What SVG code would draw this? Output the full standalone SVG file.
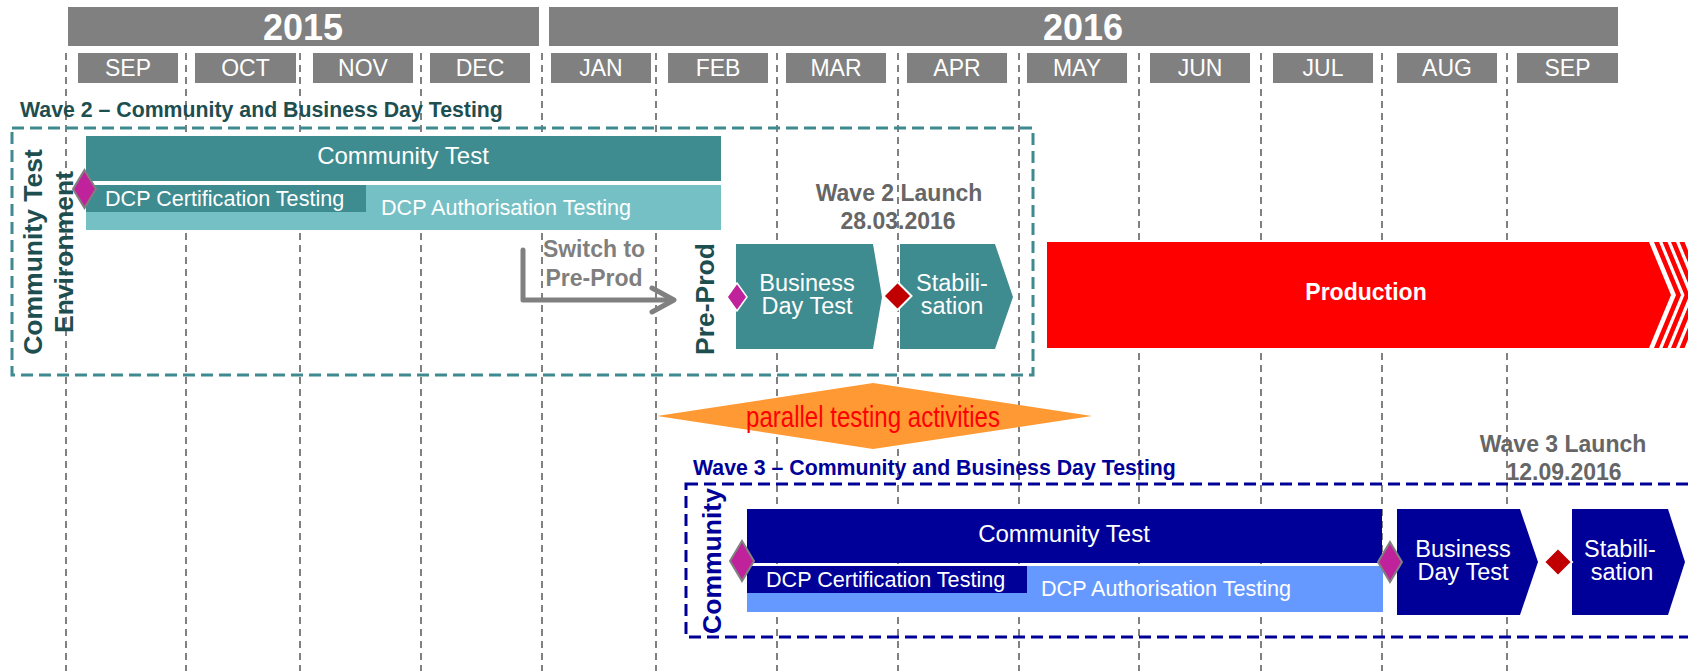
<svg xmlns="http://www.w3.org/2000/svg" width="1688" height="671" viewBox="0 0 1688 671">
<style>
text{font-family:"Liberation Sans",Arial,sans-serif}
.hdr{fill:#808080}
.yt{fill:#fff;font-size:36px;font-weight:bold;text-anchor:middle}
.mt{fill:#fff;font-size:23px;text-anchor:middle}
.grid{stroke:#808080;stroke-width:2;stroke-dasharray:7 5;fill:none}
.w2box{fill:none;stroke:#3e8a8f;stroke-width:3;stroke-dasharray:12 6}
.w3box{fill:none;stroke:#000099;stroke-width:3;stroke-dasharray:12 6}
.title{font-size:21.3px;font-weight:bold}
.teal{fill:#3e8b90}
.tealL{fill:#74c0c5}
.navy{fill:#000099}
.blueL{fill:#6699ff}
.bar{font-size:24px;fill:#fff;text-anchor:middle}
.dcp{font-size:21.6px;fill:#fff}
.vt{font-size:26.5px;font-weight:bold;text-anchor:middle}
.mag{fill:#c0229b;stroke:#808080;stroke-width:2}
.magw{fill:#c0229b;stroke:#fff;stroke-width:1.5}
.red{fill:#c00000;stroke:#fff;stroke-width:2}
.launch{fill:#666;font-size:23px;font-weight:bold;text-anchor:middle}
.box{font-size:23.5px;text-anchor:middle;fill:#fff}
.conn{fill:none;stroke:#808080;stroke-width:5;stroke-linejoin:round;stroke-linecap:round}
</style>

<g id="gridlines" class="grid">
<line x1="66" y1="53" x2="66" y2="671"/>
<line x1="186" y1="53" x2="186" y2="671"/>
<line x1="300" y1="53" x2="300" y2="671"/>
<line x1="421" y1="53" x2="421" y2="671"/>
<line x1="542" y1="53" x2="542" y2="671"/>
<line x1="656" y1="53" x2="656" y2="671"/>
<line x1="777" y1="53" x2="777" y2="671"/>
<line x1="898" y1="53" x2="898" y2="671"/>
<line x1="1019" y1="53" x2="1019" y2="671"/>
<line x1="1139" y1="53" x2="1139" y2="671"/>
<line x1="1261" y1="53" x2="1261" y2="671"/>
<line x1="1382" y1="53" x2="1382" y2="671"/>
<line x1="1507" y1="53" x2="1507" y2="671"/>
</g>

<g id="header">
<rect class="hdr" x="68" y="7" width="471" height="39"/>
<text class="yt" x="303" y="40">2015</text>
<rect class="hdr" x="549" y="7" width="1069" height="39"/>
<text class="yt" x="1083" y="40">2016</text>
<rect class="hdr" x="78" y="53" width="100" height="30"/><text class="mt" x="128" y="76">SEP</text>
<rect class="hdr" x="195" y="53" width="101" height="30"/><text class="mt" x="245.5" y="76">OCT</text>
<rect class="hdr" x="313" y="53" width="100" height="30"/><text class="mt" x="363" y="76">NOV</text>
<rect class="hdr" x="430" y="53" width="100" height="30"/><text class="mt" x="480" y="76">DEC</text>
<rect class="hdr" x="551" y="53" width="100" height="30"/><text class="mt" x="601" y="76">JAN</text>
<rect class="hdr" x="668" y="53" width="100" height="30"/><text class="mt" x="718" y="76">FEB</text>
<rect class="hdr" x="786" y="53" width="100" height="30"/><text class="mt" x="836" y="76">MAR</text>
<rect class="hdr" x="907" y="53" width="100" height="30"/><text class="mt" x="957" y="76">APR</text>
<rect class="hdr" x="1027" y="53" width="100" height="30"/><text class="mt" x="1077" y="76">MAY</text>
<rect class="hdr" x="1150" y="53" width="100" height="30"/><text class="mt" x="1200" y="76">JUN</text>
<rect class="hdr" x="1273" y="53" width="100" height="30"/><text class="mt" x="1323" y="76">JUL</text>
<rect class="hdr" x="1397" y="53" width="100" height="30"/><text class="mt" x="1447" y="76">AUG</text>
<rect class="hdr" x="1517" y="53" width="101" height="30"/><text class="mt" x="1567.5" y="76">SEP</text>
</g>

<g id="wave2-frame">
<rect class="w2box" x="12" y="128" width="1021" height="247"/>
<text class="title" x="20" y="117" fill="#1d4e50">Wave 2 – Community and Business Day Testing</text>
<text class="vt" fill="#1d4e50" transform="translate(42,252) rotate(-90)">Community Test</text>
<text class="vt" fill="#1d4e50" transform="translate(73,252) rotate(-90)">Environment</text>
</g>

<g id="w2-community-test">
<rect class="teal" x="86" y="136" width="635" height="45"/>
<text class="bar" x="403" y="164">Community Test</text>
</g>
<g id="w2-dcp">
<rect class="tealL" x="86" y="185" width="635" height="45"/>
<rect class="teal" x="86" y="185" width="280" height="27"/>
<text class="dcp" x="105" y="206">DCP Certification Testing</text>
<text class="dcp" x="381" y="215">DCP Authorisation Testing</text>
</g>
<g id="w2-start-milestone">
<polygon class="mag" points="84.5,170 96,189 84.5,208 73,189"/>
</g>

<g id="w2-switch-label">
<text font-size="23" font-weight="bold" fill="#7f7f7f" text-anchor="middle"><tspan x="594" y="257">Switch to</tspan><tspan x="594" y="286">Pre-Prod</tspan></text>
</g>

<g id="w2-preprod-label">
<text class="vt" fill="#1d4e50" transform="translate(714,299) rotate(-90)">Pre-Prod</text>
</g>

<g id="w2-launch-label">
<text class="launch"><tspan x="899" y="201">Wave 2 Launch</tspan><tspan x="898" y="229">28.03.2016</tspan></text>
</g>

<g id="w2-business-day-test">
<polygon class="teal" points="736,244 873,244 882,297 873,349 736,349"/>
<text class="box"><tspan x="807" y="291">Business</tspan><tspan x="807" y="314">Day Test</tspan></text>
</g>
<g id="w2-preprod-milestone">
<polygon class="magw" points="737,283 747,297 737,311 727,297"/>
</g>
<g id="w2-stabilisation">
<polygon class="teal" points="900,244 995,244 1013,297 995,349 900,349"/>
<text class="box"><tspan x="952" y="291">Stabili-</tspan><tspan x="952" y="314">sation</tspan></text>
</g>
<g id="w2-launch-milestone">
<polygon class="red" points="897.5,282 911.5,296 897.5,310 883.5,296"/>
</g>

<g id="production">
<polygon fill="#ff0000" points="1047,242 1649,242 1671,295 1649,348 1047,348"/>
<polygon fill="#ff0000" points="1654,242 1676,295 1654,348 1659,348 1681,295 1659,242"/>
<polygon fill="#ff0000" points="1662.5,242 1684.5,295 1662.5,348 1667.5,348 1689.5,295 1667.5,242"/>
<polygon fill="#ff0000" points="1671,242 1693,295 1671,348 1676,348 1698,295 1676,242"/>
<polygon fill="#ff0000" points="1679.5,242 1701.5,295 1679.5,348 1684.5,348 1706.5,295 1684.5,242"/>
<text x="1366" y="300" font-size="23" font-weight="bold" fill="#fff" text-anchor="middle">Production</text>
</g>

<g id="parallel-testing">
<polygon fill="#ff9933" points="657,416 873,383 1092,416 873,449"/>
<text x="873" y="427" font-family="'Liberation Sans Narrow','DejaVu Sans Condensed',sans-serif" font-size="29" fill="#ff0000" text-anchor="middle" textLength="254" lengthAdjust="spacingAndGlyphs">parallel testing activities</text>
</g>

<g id="wave3-frame">
<rect class="w3box" x="686" y="484" width="1020" height="153"/>
<text class="title" x="693" y="475" fill="#000099">Wave 3 – Community and Business Day Testing</text>
<text class="vt" fill="#000099" transform="translate(721,561) rotate(-90)">Community</text>
</g>

<g id="w3-community-test">
<rect class="navy" x="747" y="509" width="635" height="54"/>
<text class="bar" x="1064" y="542">Community Test</text>
</g>
<g id="w3-dcp">
<rect class="blueL" x="747" y="566" width="636" height="46"/>
<rect class="navy" x="747" y="566" width="280" height="27"/>
<text class="dcp" x="766" y="587">DCP Certification Testing</text>
<text class="dcp" x="1041" y="596">DCP Authorisation Testing</text>
</g>
<g id="w3-start-milestone">
<polygon class="mag" points="742,541 754,561 742,581 730,561"/>
</g>

<g id="w3-launch-label">
<text class="launch"><tspan x="1563" y="452">Wave 3 Launch</tspan><tspan x="1564" y="480">12.09.2016</tspan></text>
</g>

<g id="w3-business-day-test">
<polygon class="navy" points="1397,509 1520,509 1538,562 1520,615 1397,615"/>
<text class="box"><tspan x="1463" y="557">Business</tspan><tspan x="1463" y="580">Day Test</tspan></text>
</g>
<g id="w3-preprod-milestone">
<polygon class="mag" points="1390,542 1402,562 1390,582 1378,562"/>
</g>
<g id="w3-stabilisation">
<polygon class="navy" points="1572,509 1668,509 1685,562 1668,615 1572,615"/>
<text class="box"><tspan x="1620" y="557">Stabili-</tspan><tspan x="1622" y="580">sation</tspan></text>
</g>
<g id="w3-launch-milestone">
<polygon class="red" points="1558,548 1572,562 1558,576 1544,562"/>
</g>

<g id="connectors">
<path class="conn" d="M523,250 V300 H672"/>
<path class="conn" d="M652,288 L674,300 L652,312"/>
</g>
</svg>
